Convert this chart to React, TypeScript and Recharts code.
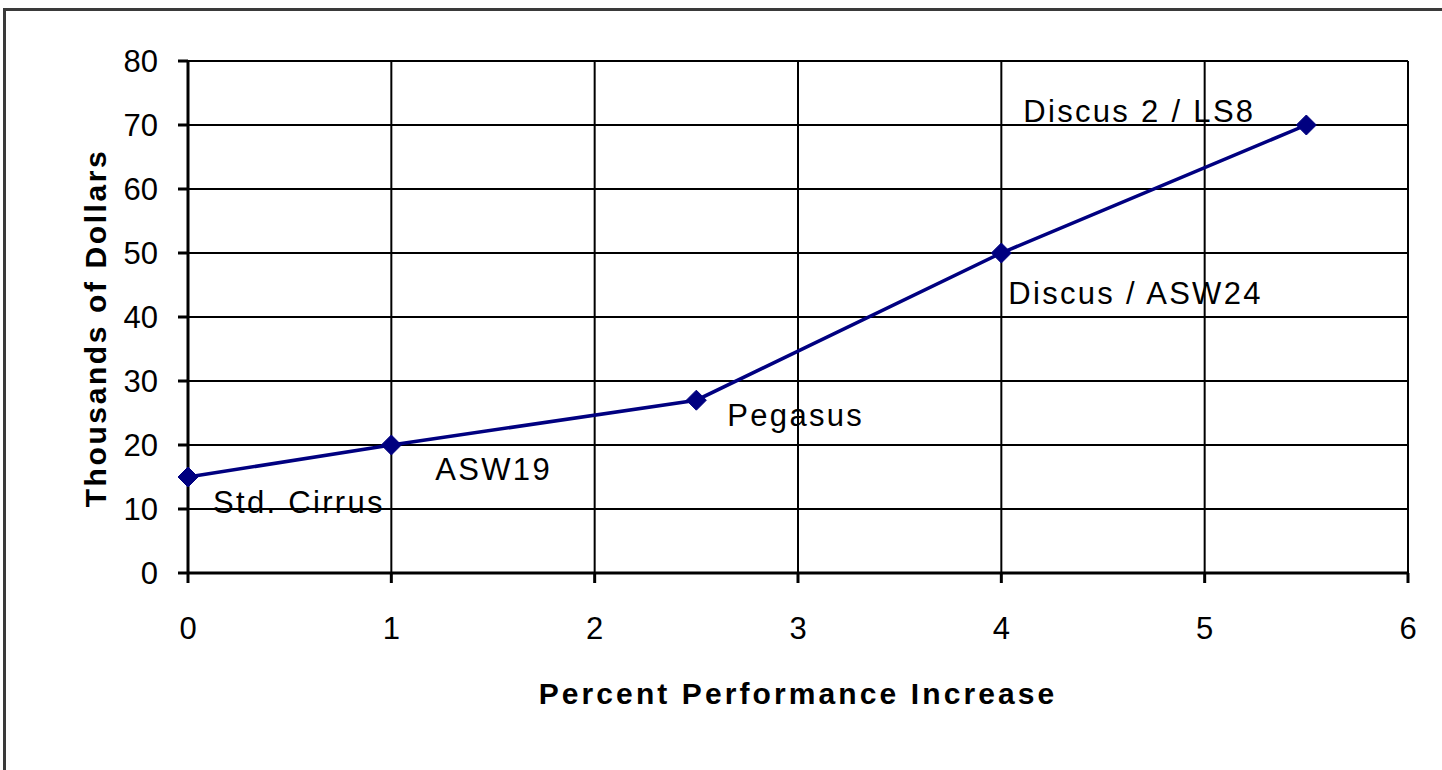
import { LineChart, Line, XAxis, YAxis, CartesianGrid, LabelList } from 'recharts';

const gliders = ['Std. Cirrus', 'ASW19', 'Pegasus', 'Discus / ASW24', 'Discus 2 / LS8'];
const perfIncrease = [0, 1, 2.5, 4, 5.5];
const costK = [15, 20, 27, 50, 70];
const xTicks = [0, 1, 2, 3, 4, 5, 6];
const yTicks = [0, 10, 20, 30, 40, 50, 60, 70, 80];

// label placement relative to each point (dx to left edge of text, dy to baseline)
const LABEL_POS = [
  { dx: 25, dy: 36 },
  { dx: 44, dy: 35 },
  { dx: 31, dy: 26 },
  { dx: 7, dy: 51 },
  { dx: -283, dy: -3 },
];

const FONT = '"Liberation Sans", Arial, sans-serif';
const NAVY = '#000080';

const data = gliders.map((name, i) => ({ name, x: perfIncrease[i], y: costK[i] }));

// eslint-disable-next-line @typescript-eslint/no-explicit-any
function Diamond({ cx, cy }: any) {
  if (cx == null || cy == null) return null;
  const r = 10;
  return (
    <polygon
      points={`${cx},${cy - r} ${cx + r},${cy} ${cx},${cy + r} ${cx - r},${cy}`}
      fill={NAVY}
      stroke={NAVY}
    />
  );
}

// eslint-disable-next-line @typescript-eslint/no-explicit-any
function PointLabel({ x, y, value, index }: any) {
  const p = LABEL_POS[index] ?? { dx: 10, dy: 20 };
  return (
    <text
      x={x + p.dx}
      y={y + p.dy}
      fill="#000"
      fontFamily={FONT}
      fontSize={31}
      letterSpacing={2.3}
      textAnchor="start"
    >
      {value}
    </text>
  );
}

export default function App() {
  return (
    <div style={{ position: 'fixed', left: 0, top: 0, width: 1442, height: 770, overflow: 'hidden', background: '#fff' }}>
      {/* screenshot frame, only top and left edges visible */}
      <div style={{ position: 'absolute', left: 3, top: 8, width: 1439, height: 3, background: '#3a3a3a' }} />
      <div style={{ position: 'absolute', left: 3, top: 8, width: 3, height: 762, background: '#3a3a3a' }} />
      <div style={{ position: 'absolute', left: 0, top: 0 }}>
        <LineChart
          width={1442}
          height={770}
          data={data}
          margin={{ top: 61, right: 34, bottom: 137, left: 88 }}
        >
          <CartesianGrid stroke="#000" strokeWidth={2} />
          <XAxis
            dataKey="x"
            type="number"
            domain={[0, 6]}
            ticks={xTicks}
            height={60}
            stroke="#000"
            strokeWidth={3}
            tickSize={10}
            tickMargin={34}
            tick={{ fill: '#000', fontSize: 31, fontFamily: FONT }}
            label={({ viewBox }: any) => (
              <text
                x={viewBox.x + viewBox.width / 2}
                y={704}
                textAnchor="middle"
                fontFamily={FONT}
                fontWeight="bold"
                fontSize={30}
                letterSpacing={3.1}
                fill="#000"
              >
                Percent Performance Increase
              </text>
            )}
          />
          <YAxis
            dataKey="y"
            type="number"
            domain={[0, 80]}
            ticks={yTicks}
            width={100}
            stroke="#000"
            strokeWidth={3}
            tickSize={10}
            tickMargin={20}
            tick={{ fill: '#000', fontSize: 31, fontFamily: FONT }}
            label={() => (
              <text
                x={0}
                y={0}
                transform="translate(106, 328) rotate(-90)"
                textAnchor="middle"
                fontFamily={FONT}
                fontWeight="bold"
                fontSize={30}
                letterSpacing={2.6}
                fill="#000"
              >
                Thousands of Dollars
              </text>
            )}
          />
          <Line
            dataKey="y"
            type="linear"
            stroke={NAVY}
            strokeWidth={3.5}
            dot={<Diamond />}
            activeDot={false}
            isAnimationActive={false}
          >
            <LabelList dataKey="name" content={<PointLabel />} />
          </Line>
        </LineChart>
      </div>
    </div>
  );
}
